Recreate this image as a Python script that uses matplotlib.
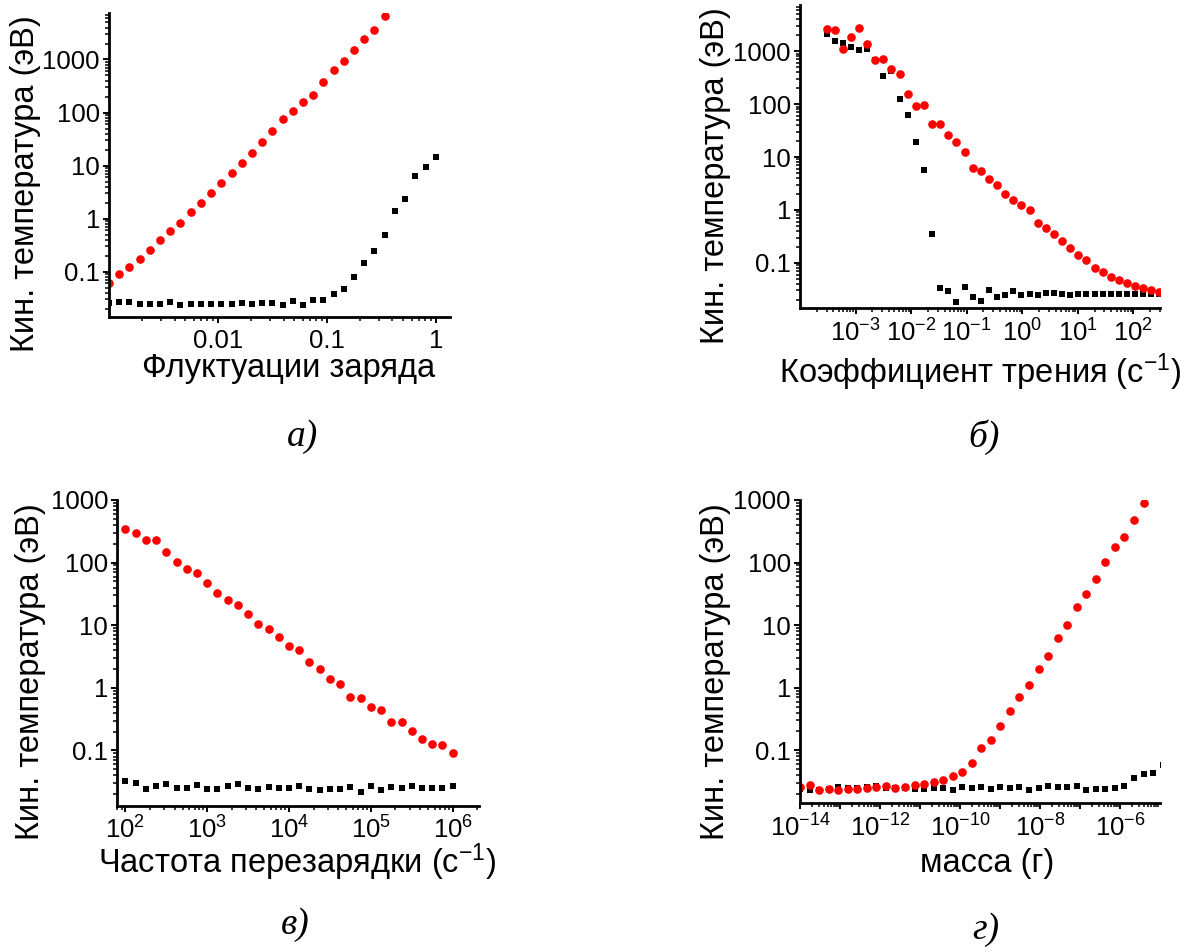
import matplotlib
matplotlib.use("Agg")
import matplotlib.pyplot as plt
import matplotlib.ticker as ticker
import numpy as np

plt.rcParams['font.family'] = ['Liberation Sans', 'DejaVu Sans']
plt.rcParams['mathtext.fontset'] = 'custom'
plt.rcParams['mathtext.rm'] = 'Liberation Sans'
plt.rcParams['mathtext.it'] = 'Liberation Sans:italic'

# а) Флуктуации заряда
x_a = [0.001, 0.001241, 0.00154, 0.00191, 0.002371, 0.002942, 0.003652, 0.004532,
       0.005623, 0.006978, 0.00866, 0.01075, 0.01334, 0.01655, 0.02054, 0.02549,
       0.03162, 0.03924, 0.0487, 0.06043, 0.07499, 0.09306, 0.1155, 0.1433,
       0.1778, 0.2207, 0.2738, 0.3398, 0.4217, 0.5233, 0.6494, 0.8058, 1.0]
red_a = [0.062, 0.0903, 0.124, 0.176, 0.256, 0.396, 0.585, 0.84, 1.34, 1.98, 3.0,
         4.6, 7.2, 11.2, 17.6, 28.4, 45, 75, 108, 159, 215, 370, 620, 930, 1500,
         2440, 3670, 6620]
black_a = [0.0252, 0.0264, 0.027, 0.0245, 0.0245, 0.0245, 0.0264, 0.0235, 0.0245,
           0.0245, 0.0245, 0.0245, 0.0245, 0.026, 0.0245, 0.026, 0.026, 0.0235,
           0.028, 0.0235, 0.029, 0.029, 0.0373, 0.048, 0.078, 0.144, 0.249, 0.49,
           1.41, 2.34, 6.4, 9.6, 14.3]

# б) Коэффициент трения
x_b = [3.0e-4, 4.2e-4, 5.88e-4, 8.23e-4, 1.152e-3, 1.613e-3, 2.259e-3, 3.162e-3,
       4.427e-3, 6.198e-3, 8.677e-3, 0.01215, 0.01701, 0.02381, 0.03333, 0.04667,
       0.06533, 0.09147, 0.1281, 0.1793, 0.2510, 0.3514, 0.4919, 0.6887, 0.9642,
       1.350, 1.890, 2.646, 3.704, 5.186, 7.260, 10.16, 14.23, 19.92, 27.89, 39.05,
       54.67, 76.53, 107.1, 150.0, 210.0, 294.0]
red_b = [2640, 2570, 1122, 1840, 2760, 1376, 697, 716, 464, 373, 154, 91, 97, 41.7,
         41.7, 26.2, 19.1, 12.3, 6.15, 5.56, 3.87, 2.94, 1.99, 1.51, 1.26, 0.99,
         0.57, 0.452, 0.353, 0.257, 0.189, 0.138, 0.111, 0.0793, 0.0667, 0.0544,
         0.0463, 0.0407, 0.0362, 0.0332, 0.0304, 0.0283]
black_b = [2128, 1590, 1437, 1190, 1074, 1106, 697, 337, 419, 127.5, 63.5, 19.1, 5.8,
           0.353, 0.0327, 0.0291, 0.0183, 0.0347, 0.0224, 0.0189, 0.0304, 0.0224,
           0.0241, 0.0291, 0.0241, 0.0252, 0.0245, 0.0263, 0.0263, 0.0255, 0.025,
           0.0255, 0.0255, 0.0255, 0.0255, 0.0255, 0.0255, 0.0255, 0.0255, 0.0255,
           0.0255, 0.0255]

# в) Частота перезарядки
x_c = [100, 133.4, 177.8, 237.1, 316.2, 421.7, 562.3, 749.9, 1000, 1334, 1778, 2371,
       3162, 4217, 5623, 7499, 1e4, 1.334e4, 1.778e4, 2.371e4, 3.162e4, 4.217e4,
       5.623e4, 7.499e4, 1e5, 1.334e5, 1.778e5, 2.371e5, 3.162e5, 4.217e5, 5.623e5,
       7.499e5, 1e6]
red_c = [339.6, 300, 229, 226, 147, 103, 79.7, 68.7, 46.4, 32.5, 25.4, 20.9, 15.0,
         10.6, 8.85, 6.59, 4.67, 4.03, 2.56, 1.98, 1.40, 1.15, 0.722, 0.688, 0.487,
         0.448, 0.280, 0.280, 0.204, 0.150, 0.126, 0.122, 0.0906]
black_c = [0.0327, 0.0300, 0.0243, 0.0266, 0.0293, 0.025, 0.025, 0.0283, 0.0243,
           0.0241, 0.0271, 0.0293, 0.025, 0.0243, 0.0262, 0.025, 0.025, 0.0271,
           0.0241, 0.0235, 0.0241, 0.0243, 0.0259, 0.0218, 0.0266, 0.0235, 0.0259,
           0.025, 0.0275, 0.0256, 0.0256, 0.0256, 0.0275]

# г) масса
x_d = [1e-14, 1.732e-14, 3e-14, 5.196e-14, 9e-14, 1.559e-13, 2.7e-13, 4.677e-13,
       8.1e-13, 1.403e-12, 2.43e-12, 4.209e-12, 7.29e-12, 1.263e-11, 2.187e-11,
       3.788e-11, 6.561e-11, 1.136e-10, 1.968e-10, 3.409e-10, 5.905e-10, 1.023e-9,
       1.771e-9, 3.068e-9, 5.314e-9, 9.205e-9, 1.594e-8, 2.761e-8, 4.783e-8,
       8.284e-8, 1.435e-7, 2.485e-7, 4.305e-7, 7.456e-7, 1.291e-6, 2.237e-6,
       3.874e-6, 6.71e-6, 1.162e-5]
red_d = [0.0259, 0.0275, 0.0235, 0.0243, 0.0235, 0.0243, 0.0243, 0.025, 0.0259,
         0.0266, 0.025, 0.0259, 0.0275, 0.029, 0.0312, 0.0331, 0.0384, 0.0456,
         0.0627, 0.1076, 0.1445, 0.242, 0.42, 0.705, 1.12, 2.0, 3.16, 6.3, 10.1,
         19.5, 30.9, 55, 103, 175, 256, 478, 880]
black_d = [0.0243, 0.0235, 0.0235, 0.0243, 0.0259, 0.025, 0.025, 0.0259, 0.0266,
           0.025, 0.025, 0.025, 0.0243, 0.0243, 0.025, 0.025, 0.0235, 0.0259, 0.025,
           0.0259, 0.0241, 0.0259, 0.025, 0.0259, 0.0235, 0.025, 0.0271, 0.0259,
           0.0259, 0.0271, 0.0235, 0.0243, 0.0243, 0.025, 0.0266, 0.0361, 0.0424,
           0.0435, 0.059]

y_ticks = [0.1, 1, 10, 100, 1000]
y_labels = ['0.1', '1', '10', '100', '1000']
ylabel = 'Кин. температура (эВ)'


def panel(rect, x_red, red, x_black, black, xlim, ylim, xticks, xlabels,
          xlabel, xlab_pos, ylab_pos, xpad):
    ax = fig.add_axes(rect)
    ax.set_xscale('log')
    ax.set_yscale('log')
    ax.plot(x_black, black, 's', color='black', ms=5.0, mew=0)
    ax.plot(x_red, red, 'o', color='#ff0000', ms=6.2, mew=0)
    ax.set_xlim(*xlim)
    ax.set_ylim(*ylim)
    ax.spines['top'].set_visible(False)
    ax.spines['right'].set_visible(False)
    ax.spines['left'].set_linewidth(2.0)
    ax.spines['bottom'].set_linewidth(2.0)
    ax.xaxis.set_major_locator(ticker.FixedLocator(xticks))
    ax.xaxis.set_major_formatter(ticker.FixedFormatter(xlabels))
    ax.yaxis.set_major_locator(ticker.FixedLocator(y_ticks))
    ax.yaxis.set_major_formatter(ticker.FixedFormatter(y_labels))
    ax.xaxis.set_minor_locator(ticker.LogLocator(base=10, subs=np.arange(2, 10),
                                                 numticks=100))
    ax.yaxis.set_minor_locator(ticker.LogLocator(base=10, subs=np.arange(2, 10),
                                                 numticks=100))
    ax.xaxis.set_minor_formatter(ticker.NullFormatter())
    ax.yaxis.set_minor_formatter(ticker.NullFormatter())
    ax.tick_params(which='major', direction='out', length=4.5, width=1.4,
                   labelsize=18.5)
    ax.tick_params(which='minor', direction='out', length=2.6, width=1.1)
    ax.tick_params(axis='x', which='major', pad=xpad)
    ax.tick_params(axis='y', which='major', pad=2)
    ax.set_xlabel(xlabel, fontsize=23.5)
    ax.xaxis.set_label_coords(*xlab_pos)
    ax.xaxis.label.set_verticalalignment('center')
    ax.set_ylabel(ylabel, fontsize=23.5)
    ax.yaxis.set_label_coords(*ylab_pos)
    ax.yaxis.label.set_verticalalignment('center')
    return ax


fig = plt.figure(figsize=(11.81, 9.52), dpi=100)

panel([0.0923, 0.667, 0.2887, 0.3193], x_a[:len(red_a)], red_a, x_a, black_a,
      (0.001, 1.35), (0.014, 7500), [0.01, 0.1, 1], ['0.01', '0.1', '1'],
      'Флуктуации заряда', (0.528, -0.168), (-0.245, 0.44), 4)

panel([0.6774, 0.6765, 0.3048, 0.3183], x_b, red_b, x_b, black_b,
      (1e-4, 300), (0.014, 7500),
      [1e-3, 1e-2, 1e-1, 1, 10, 100],
      ['$10^{-3}$', '$10^{-2}$', '$10^{-1}$', '$10^{0}$', '$10^{1}$', '$10^{2}$'],
      'Коэффициент трения (с$^{-1}$)', (0.5, -0.212), (-0.235, 0.436), 4)

panel([0.0991, 0.1534, 0.3065, 0.3214], x_c, red_c, x_c, black_c,
      (79, 2.1e6), (0.013, 1000),
      [1e2, 1e3, 1e4, 1e5, 1e6],
      ['$10^{2}$', '$10^{3}$', '$10^{4}$', '$10^{5}$', '$10^{6}$'],
      'Частота перезарядки (с$^{-1}$)', (0.497, -0.185), (-0.24, 0.44), 3)

panel([0.6774, 0.1565, 0.3048, 0.3183], x_d[:len(red_d)], red_d, x_d, black_d,
      (1e-14, 1e-5), (0.0144, 1000),
      [1e-14, 1e-13, 1e-12, 1e-11, 1e-10, 1e-9, 1e-8, 1e-7, 1e-6],
      ['$10^{-14}$', '', '$10^{-12}$', '', '$10^{-10}$', '', '$10^{-8}$', '',
       '$10^{-6}$'],
      'масса (г)', (0.519, -0.2), (-0.235, 0.432), 4)

captions = ['а)', 'б)', 'в)', 'г)']
cap_pos = [(302, 437), (984, 437), (295, 925), (986, 930)]
for c, (px, py) in zip(captions, cap_pos):
    fig.text(px / 1181, 1 - py / 952, c, fontsize=27, style='italic',
             family='Liberation Serif', ha='center', va='center')

fig.savefig('out.png', dpi=100)
